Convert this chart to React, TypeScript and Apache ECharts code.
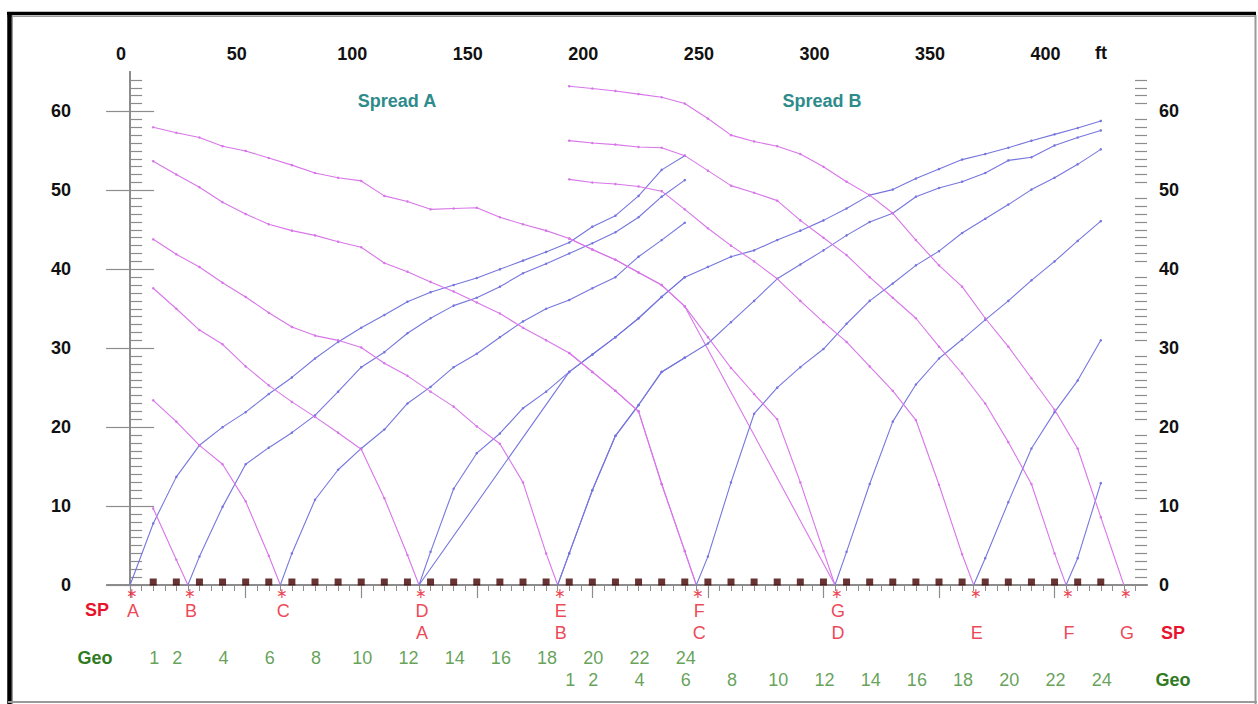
import React, { useEffect, useRef } from "react";
import * as echarts from "echarts";

// ---- geometry of the two spreads (ft) ----
const geoPosA = [10, 20, 30, 40, 50, 60, 70, 80, 90, 100, 110, 120, 130, 140, 150, 160, 170, 180, 190, 200, 210, 220, 230, 240];
const geoPosB = [190, 200, 210, 220, 230, 240, 250, 260, 270, 280, 290, 300, 310, 320, 330, 340, 350, 360, 370, 380, 390, 400, 410, 420];
const geoLabelNumbers = [1, 2, 4, 6, 8, 10, 12, 14, 16, 18, 20, 22, 24];
const shotNames = ["A", "B", "C", "D", "E", "F", "G"];
const shotPosA = [0, 25, 65, 125, 185, 245, 305];
const shotPosB = [125, 185, 245, 305, 365, 405, 430];

// ---- first-break times (ms) at geophones 1..24, spread A ----
const timesA_shotA = [7.8, 13.7, 17.7, 20.0, 21.9, 24.2, 26.3, 28.7, 30.8, 32.6, 34.2, 35.9, 37.1, 38.0, 38.9, 40.0, 41.1, 42.2, 43.4, 45.4, 46.8, 49.3, 52.6, 54.4];
const timesA_shotB = [9.7, 3.2, 3.6, 9.9, 15.3, 17.4, 19.3, 21.5, 24.5, 27.6, 29.5, 31.9, 33.8, 35.4, 36.4, 37.8, 39.5, 40.7, 42.0, 43.3, 44.7, 46.6, 49.2, 51.3];
const timesA_shotC = [23.4, 20.7, 17.7, 15.3, 10.6, 3.7, 4.0, 10.8, 14.6, 17.3, 19.7, 23.0, 25.1, 27.6, 29.3, 31.4, 33.4, 35.0, 36.1, 37.6, 39.0, 41.6, 43.7, 45.9];
const timesA_shotD = [37.6, 35.0, 32.3, 30.5, 27.7, 25.3, 23.2, 21.3, 19.3, 17.2, 11.0, 3.8, 4.2, 12.2, 16.7, 19.2, 22.4, 24.5, 27.0, 29.2, 31.4, 33.8, 36.5, 39.0];
const timesA_shotE = [43.8, 41.9, 40.3, 38.3, 36.5, 34.5, 32.7, 31.6, 31.0, 30.1, 28.1, 26.5, 24.5, 22.6, 20.1, 17.9, 13.0, 4.0, 4.0, 12.0, 18.9, 22.8, 27.0, 28.8];
const timesA_shotF = [53.7, 52.0, 50.4, 48.5, 47.0, 45.7, 44.9, 44.3, 43.5, 42.8, 40.8, 39.7, 38.4, 37.2, 35.8, 34.4, 32.6, 31.0, 29.4, 27.0, 24.6, 22.0, 12.8, 4.3];
const timesA_shotG = [58.0, 57.3, 56.7, 55.6, 55.0, 54.1, 53.2, 52.2, 51.6, 51.2, 49.3, 48.6, 47.6, 47.7, 47.8, 46.6, 45.7, 44.9, 43.9, 42.5, 41.2, 39.6, 38.0, 35.3];

// ---- spread B ----
const timesB_shotA = [27.0, 29.2, 31.4, 33.8, 36.5, 39.0, 40.3, 41.6, 42.4, 43.7, 44.9, 46.2, 47.7, 49.4, 50.1, 51.5, 52.7, 53.9, 54.6, 55.4, 56.3, 57.1, 57.9, 58.8];
const timesB_shotB = [4.0, 12.0, 18.9, 22.8, 27.0, 28.8, 30.6, 33.3, 36.0, 38.8, 40.6, 42.4, 44.3, 46.0, 47.1, 49.2, 50.3, 51.1, 52.2, 53.8, 54.2, 55.7, 56.7, 57.6];
const timesB_shotC = [29.4, 27.0, 24.6, 22.0, 12.8, 4.3, 3.6, 13.0, 21.7, 25.0, 27.6, 29.9, 33.1, 36.0, 38.2, 40.5, 42.3, 44.6, 46.4, 48.2, 50.1, 51.6, 53.3, 55.2];
const timesB_shotD = [43.9, 42.5, 41.2, 39.6, 38.0, 35.3, 31.4, 27.5, 24.2, 21.0, 13.0, 4.3, 4.2, 12.8, 20.7, 25.4, 28.7, 31.1, 33.6, 36.0, 38.6, 41.0, 43.6, 46.1];
const timesB_shotE = [51.4, 51.0, 50.8, 50.5, 49.9, 47.6, 45.2, 43.0, 41.0, 38.8, 36.0, 33.3, 30.8, 27.7, 24.6, 20.9, 12.7, 3.9, 3.4, 10.5, 17.3, 21.9, 25.9, 31.0];
const timesB_shotF = [56.3, 56.0, 55.8, 55.5, 55.4, 54.4, 52.5, 50.6, 49.7, 48.7, 46.2, 44.0, 41.8, 39.0, 36.4, 33.8, 30.2, 26.8, 23.0, 18.1, 12.8, 4.0, 3.4, 12.9];
const timesB_shotG = [63.2, 62.9, 62.6, 62.2, 61.8, 61.0, 59.1, 57.0, 56.2, 55.6, 54.6, 53.0, 51.1, 49.4, 47.1, 43.7, 40.5, 37.8, 33.8, 30.2, 26.2, 22.2, 17.3, 8.6];

// ---- axis ticks ----
const xTickLabels = [0, 50, 100, 150, 200, 250, 300, 350, 400];
const yTickLabels = [0, 10, 20, 30, 40, 50, 60];

const timesA = [timesA_shotA, timesA_shotB, timesA_shotC, timesA_shotD, timesA_shotE, timesA_shotF, timesA_shotG];
const timesB = [timesB_shotA, timesB_shotB, timesB_shotC, timesB_shotD, timesB_shotE, timesB_shotF, timesB_shotG];

const MAGENTA = "#d876e9";
const BLUE = "#7676de";
const RED = "#e8142c";
const GREEN = "#3d8a2e";
const GREEN_DARK = "#2f7a22";
const FONT = "Liberation Sans, Arial, sans-serif";

function lineSeries(name: string, data: any[], color: string) {
  return {
    type: "line",
    name,
    xAxisIndex: 0,
    yAxisIndex: 0,
    data,
    symbol: "circle",
    symbolSize: 2.5,
    showSymbol: true,
    lineStyle: { color, width: 1.1 },
    itemStyle: { color },
    silent: true,
    z: 3,
  };
}

function buildCurves(spread: string, geoPos: number[], shots: number[], times: number[][]) {
  const out: any[] = [];
  shots.forEach((sx, i) => {
    const t = times[i];
    const left: any[] = [];
    const right: any[] = [];
    geoPos.forEach((gx, k) => {
      if (gx < sx) left.push([gx, t[k]]);
      else right.push([gx, t[k]]);
    });
    const shotPt = { value: [sx, 0], symbol: "none" };
    if (left.length) out.push(lineSeries(`${spread} ${shotNames[i]} reverse`, [...left, shotPt], MAGENTA));
    if (right.length) out.push(lineSeries(`${spread} ${shotNames[i]} forward`, [shotPt, ...right], BLUE));
  });
  return out;
}

function labelSeries(name: string, data: any[], offset: number[], color: string, fontSize = 18) {
  return {
    type: "scatter",
    name,
    xAxisIndex: 0,
    yAxisIndex: 0,
    data,
    symbol: "circle",
    symbolSize: 1,
    itemStyle: { color: "transparent" },
    silent: true,
    z: 5,
    label: {
      show: true,
      position: "inside",
      offset,
      formatter: "{b}",
      color,
      fontSize,
      fontFamily: FONT,
    },
  };
}

export default function App() {
  const ref = useRef<HTMLDivElement>(null);
  useEffect(() => {
    if (!ref.current) return;
    const chart = echarts.init(ref.current, null, { renderer: "svg" });

    const allGeo = Array.from(new Set([...geoPosA, ...geoPosB])).sort((a, b) => a - b);
    const allShots = Array.from(new Set([...shotPosA, ...shotPosB])).sort((a, b) => a - b);
    const xMinor: number[] = [];
    for (let v = 5; v <= 435; v += 5) if (v % 50 !== 0) xMinor.push(v);
    const yMinor: number[] = [];
    for (let v = 1; v <= 64; v += 1) if (v % 10 !== 0) yMinor.push(v);

    const axisGray = "#8c8c8c";
    const tickLabel = { fontSize: 18, fontWeight: "bold", color: "#111", fontFamily: FONT };

    const yAxisBase = (pos: string, major: boolean) => ({
      type: "value",
      position: pos,
      min: 0,
      max: 65,
      axisLine: { show: major, lineStyle: { color: axisGray, width: 2 } },
      axisTick: {
        show: true,
        inside: true,
        length: major ? 24 : 12,
        customValues: major ? yTickLabels : yMinor,
        lineStyle: { color: axisGray, width: 1.2 },
      },
      axisLabel: major
        ? { show: true, customValues: yTickLabels, margin: pos === "left" ? 36 : 12, ...tickLabel }
        : { show: false },
      splitLine: { show: false },
    });

    const series: any[] = [
      ...buildCurves("Spread A", geoPosA, shotPosA, timesA),
      ...buildCurves("Spread B", geoPosB, shotPosB, timesB),
      {
        type: "scatter",
        name: "geophones",
        xAxisIndex: 0,
        yAxisIndex: 0,
        data: allGeo.map((g) => [g, 0]),
        symbol: "rect",
        symbolSize: 7,
        symbolOffset: [0, -3],
        itemStyle: { color: "#420000" },
        silent: true,
        clip: false,
        z: 6,
      },
      labelSeries("shot stars", allShots.map((s) => ({ value: [s, 0], name: "\u2217" })), [2, 8], RED, 14),
      labelSeries("shots A", shotPosA.map((s, i) => ({ value: [s, 0], name: shotNames[i] })), [3, 26], RED),
      labelSeries("shots B", shotPosB.map((s, i) => ({ value: [s, 0], name: shotNames[i] })), [3, 48], RED),
      labelSeries("geo A", geoLabelNumbers.map((n) => ({ value: [geoPosA[n - 1], 0], name: String(n) })), [1, 73], GREEN),
      labelSeries("geo B", geoLabelNumbers.map((n) => ({ value: [geoPosB[n - 1], 0], name: String(n) })), [1, 95], GREEN),
    ];

    const txt = (text: string, x: number, y: number, fill: string, bold = true) => ({
      type: "text",
      x,
      y,
      silent: true,
      style: {
        text,
        fill,
        font: `${bold ? "bold " : ""}18px ${FONT}`,
        align: "center",
        verticalAlign: "middle",
      },
    });

    const option: any = {
      animation: false,
      backgroundColor: "#ffffff",
      grid: { left: 107, right: 111, top: 72, bottom: 119 },
      xAxis: [
        {
          type: "value",
          position: "bottom",
          min: -10,
          max: 440,
          axisLine: { show: true, lineStyle: { color: axisGray, width: 2 } },
          axisTick: { show: true, inside: false, length: 6, customValues: allGeo, lineStyle: { color: "#dccaca", width: 1 } },
          axisLabel: { show: false },
          splitLine: { show: false },
        },
        {
          type: "value",
          position: "top",
          min: -10,
          max: 440,
          axisLine: { show: true, lineStyle: { color: axisGray, width: 1.5 } },
          axisTick: { show: true, inside: true, length: 13, customValues: xTickLabels, lineStyle: { color: axisGray, width: 1.2 } },
          axisLabel: { show: true, customValues: xTickLabels, margin: 9, padding: [0, 18, 0, 0], ...tickLabel },
          splitLine: { show: false },
        },
        {
          type: "value",
          position: "top",
          min: -10,
          max: 440,
          axisLine: { show: false },
          axisTick: { show: true, inside: true, length: 6, customValues: xMinor, lineStyle: { color: axisGray, width: 1 } },
          axisLabel: { show: false },
          splitLine: { show: false },
        },
      ],
      yAxis: [yAxisBase("left", true), yAxisBase("left", false), yAxisBase("right", true), yAxisBase("right", false)],
      graphic: [
        // frame
        { type: "line", silent: true, shape: { x1: 7, y1: 13.5, x2: 1256, y2: 13.5 }, style: { stroke: "#000", lineWidth: 3.5 } },
        { type: "line", silent: true, shape: { x1: 7, y1: 16.5, x2: 1256, y2: 16.5 }, style: { stroke: "#9a9a9a", lineWidth: 1 } },
        { type: "line", silent: true, shape: { x1: 9.5, y1: 12, x2: 9.5, y2: 704 }, style: { stroke: "#000", lineWidth: 4.5 } },
        { type: "line", silent: true, shape: { x1: 12.5, y1: 15, x2: 12.5, y2: 704 }, style: { stroke: "#9a9a9a", lineWidth: 1 } },
        { type: "line", silent: true, shape: { x1: 1255.5, y1: 15, x2: 1255.5, y2: 704 }, style: { stroke: "#9a9a9a", lineWidth: 2 } },
        { type: "line", silent: true, shape: { x1: 8, y1: 702, x2: 1257, y2: 702 }, style: { stroke: "#9a9a9a", lineWidth: 2 } },
        // texts
        txt("Spread A", 397, 101, "#2e8b8b"),
        txt("Spread B", 822, 101, "#2e8b8b"),
        txt("ft", 1101, 53, "#111"),
        txt("SP", 97, 610, RED),
        txt("SP", 1173, 633, RED),
        txt("Geo", 95, 658, GREEN_DARK),
        txt("Geo", 1173, 680, GREEN_DARK),
      ],
      series,
    };

    chart.setOption(option);
    return () => chart.dispose();
  }, []);

  return (
    <div
      ref={ref}
      style={{ position: "fixed", left: 0, top: 0, width: 1258, height: 704, background: "#fff" }}
    />
  );
}
